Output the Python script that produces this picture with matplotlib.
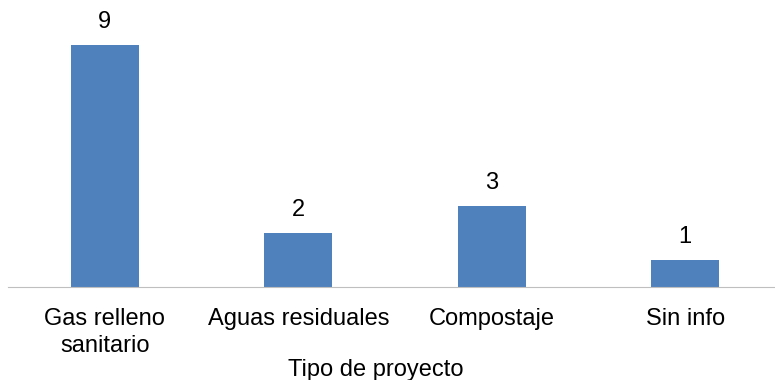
import matplotlib.pyplot as plt

plt.rcParams['font.family'] = ['Liberation Sans', 'DejaVu Sans']

categorias = ['Gas relleno\nsanitario', 'Aguas residuales', 'Compostaje', 'Sin info']
proyectos = [9, 2, 3, 1]

fig = plt.figure(figsize=(7.75, 3.8), dpi=100)
# the plot area runs past the right edge, as in the original
ax = fig.add_axes([8 / 775, 1 - 287 / 380, 774 / 775, 269 / 380])

x = range(len(categorias))
bars = ax.bar(x, proyectos, width=0.35, color='#4F81BD')
for b, v in zip(bars, proyectos):
    ax.text(b.get_x() + b.get_width() / 2, v + 0.45, str(v),
            ha='center', va='bottom', fontsize=17)

ax.set_xlim(-0.5, len(categorias) - 0.5)
ax.set_ylim(0, 10)
ax.set_xticks(list(x))
ax.set_xticklabels(categorias, fontsize=17, linespacing=1.3)
ax.tick_params(axis='x', length=0, pad=15)
ax.set_yticks([])
for s in ['top', 'right', 'left']:
    ax.spines[s].set_visible(False)
ax.spines['bottom'].set_color('#BFBFBF')
ax.set_xlabel('Tipo de proyecto', fontsize=17, va='center')
ax.xaxis.set_label_coords(0.475, -0.31)

fig.savefig('out.png', dpi=100)
